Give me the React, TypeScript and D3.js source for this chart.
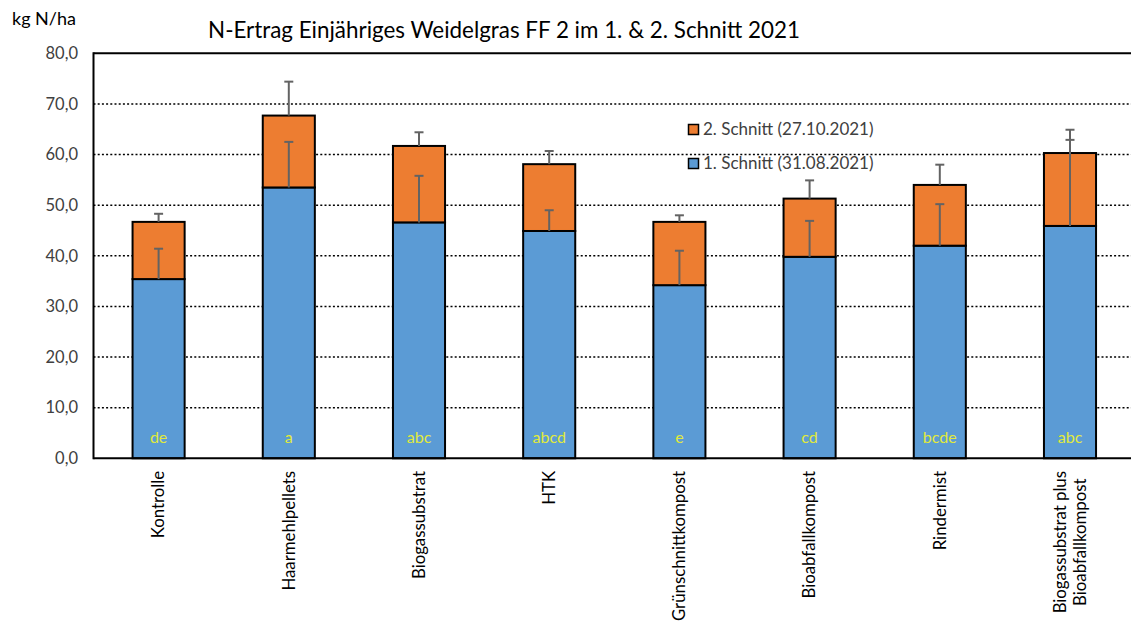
import React, { useEffect, useRef } from "react";
import * as d3 from "d3";

const categories = [
  "Kontrolle",
  "Haarmehlpellets",
  "Biogassubstrat",
  "HTK",
  "Grünschnittkompost",
  "Bioabfallkompost",
  "Rindermist",
  "Biogassubstrat plus|Bioabfallkompost",
];
const schnitt1 = [35.4, 53.5, 46.6, 44.9, 34.2, 39.8, 42.0, 45.9];
const schnitt2 = [11.3, 14.2, 15.1, 13.2, 12.5, 11.5, 12.0, 14.4];
const err1 = [6.0, 9.0, 9.2, 4.1, 6.8, 7.1, 8.2, 17.0];
const err2 = [1.6, 6.7, 2.7, 2.6, 1.3, 3.6, 4.0, 4.6];
const letters = ["de", "a", "abc", "abcd", "e", "cd", "bcde", "abc"];
const yTicks = [0, 10, 20, 30, 40, 50, 60, 70, 80];
const seriesNames = ["1. Schnitt (31.08.2021)", "2. Schnitt (27.10.2021)"];
const title = "N-Ertrag Einjähriges Weidelgras FF 2 im 1. & 2. Schnitt 2021";
const yLabel = "kg N/ha";

const W = 1131;
const H = 622;
const FONT = "Lato, 'Open Sans', sans-serif";
const BLUE = "#5b9bd5";
const ORANGE = "#ed7d31";

export default function App() {
  const ref = useRef<SVGSVGElement>(null);

  useEffect(() => {
    const svg = d3.select(ref.current!);
    svg.selectAll("*").remove();

    const left = 93.5;
    const top = 53.3;
    const bottom = 458.3;
    const step = 130.2;
    const right = left + step * categories.length;

    const x = d3
      .scaleBand<string>()
      .domain(categories)
      .range([left, right])
      .paddingInner(0.6)
      .paddingOuter(0.3);
    const y = d3.scaleLinear().domain([0, 80]).range([bottom, top]);

    svg.append("rect").attr("width", W).attr("height", H).attr("fill", "#fff");

    // gridlines
    svg
      .append("g")
      .selectAll("line")
      .data(yTicks.filter((t) => t > 0 && t < 80))
      .join("line")
      .attr("x1", left)
      .attr("x2", right)
      .attr("y1", (d) => y(d))
      .attr("y2", (d) => y(d))
      .attr("stroke", "#000")
      .attr("stroke-width", 1.6)
      .attr("stroke-dasharray", "2 2.2");

    // frame: top and left
    svg
      .append("line")
      .attr("x1", left)
      .attr("x2", right)
      .attr("y1", y(80))
      .attr("y2", y(80))
      .attr("stroke", "#000")
      .attr("stroke-width", 2);
    svg
      .append("line")
      .attr("x1", left)
      .attr("x2", left)
      .attr("y1", y(80) - 1)
      .attr("y2", y(0) + 1)
      .attr("stroke", "#000")
      .attr("stroke-width", 2);

    // y tick labels
    svg
      .append("g")
      .selectAll("text")
      .data(yTicks)
      .join("text")
      .attr("x", 78)
      .attr("y", (d) => y(d))
      .attr("dy", "0.35em")
      .attr("text-anchor", "end")
      .attr("font-family", FONT)
      .attr("font-size", 16.5)
      .attr("fill", "#404040")
      .text((d) => d3.format(".1f")(d).replace(".", ","));

    const bw = x.bandwidth();

    // bars
    const g = svg.append("g");
    categories.forEach((c, i) => {
      const x0 = x(c)!;
      g.append("rect")
        .attr("x", x0)
        .attr("y", y(schnitt1[i]))
        .attr("width", bw)
        .attr("height", y(0) - y(schnitt1[i]))
        .attr("fill", BLUE)
        .attr("stroke", "#000")
        .attr("stroke-width", 2);
      g.append("rect")
        .attr("x", x0)
        .attr("y", y(schnitt1[i] + schnitt2[i]))
        .attr("width", bw)
        .attr("height", y(schnitt1[i]) - y(schnitt1[i] + schnitt2[i]))
        .attr("fill", ORANGE)
        .attr("stroke", "#000")
        .attr("stroke-width", 2);
    });

    // x axis line
    svg
      .append("line")
      .attr("x1", left)
      .attr("x2", right)
      .attr("y1", y(0))
      .attr("y2", y(0))
      .attr("stroke", "#000")
      .attr("stroke-width", 2);

    // error bars
    const eg = svg.append("g").attr("stroke", "#636363").attr("stroke-width", 2);
    categories.forEach((c, i) => {
      const cx = x(c)! + bw / 2;
      const drawErr = (base: number, e: number) => {
        eg.append("line")
          .attr("x1", cx)
          .attr("x2", cx)
          .attr("y1", y(base))
          .attr("y2", y(base + e));
        eg.append("line")
          .attr("x1", cx - 4.5)
          .attr("x2", cx + 4.5)
          .attr("y1", y(base + e))
          .attr("y2", y(base + e));
      };
      drawErr(schnitt1[i], err1[i]);
      drawErr(schnitt1[i] + schnitt2[i], err2[i]);
    });

    // significance letters
    svg
      .append("g")
      .selectAll("text")
      .data(categories)
      .join("text")
      .attr("x", (d) => x(d)! + bw / 2)
      .attr("y", 443)
      .attr("text-anchor", "middle")
      .attr("font-family", FONT)
      .attr("font-size", 16)
      .attr("fill", "#e1ea3a")
      .text((_, i) => letters[i]);

    // x labels
    const xl = svg.append("g");
    categories.forEach((c) => {
      const cx = x(c)! + bw / 2;
      const lines = c.split("|");
      const t = xl
        .append("text")
        .attr("transform", `translate(${cx},471) rotate(-90)`)
        .attr("font-family", FONT)
        .attr("font-size", 16.8)
        .attr("fill", "#000");
      if (lines.length === 1) {
        t.attr("text-anchor", "end")
          .attr("x", 0)
          .attr("y", 0)
          .attr("dy", "0.35em")
          .text(lines[0]);
      } else {
        const spans = lines.map((l, k) =>
          t
            .append("tspan")
            .attr("x", 0)
            .attr("y", (k - (lines.length - 1) / 2) * 20)
            .attr("dy", "0.35em")
            .text(l)
        );
        const maxLen = d3.max(spans, (s) => (s.node() as SVGTSpanElement).getComputedTextLength()) || 0;
        t.attr("text-anchor", "middle");
        spans.forEach((s) => s.attr("x", -maxLen / 2));
      }
    });

    // legend
    const leg = svg.append("g");
    const legItems = [
      { name: seriesNames[1], color: ORANGE, y: 129.5 },
      { name: seriesNames[0], color: BLUE, y: 163.5 },
    ];
    legItems.forEach((it) => {
      leg
        .append("rect")
        .attr("x", 688.5)
        .attr("y", it.y - 5)
        .attr("width", 10)
        .attr("height", 10)
        .attr("fill", it.color)
        .attr("stroke", "#000")
        .attr("stroke-width", 1.5);
      leg
        .append("text")
        .attr("x", 703)
        .attr("y", it.y)
        .attr("dy", "0.35em")
        .attr("font-family", FONT)
        .attr("font-size", 17)
        .attr("fill", "#404040")
        .text(it.name);
    });

    // title
    svg
      .append("text")
      .attr("x", 504)
      .attr("y", 38)
      .attr("text-anchor", "middle")
      .attr("font-family", FONT)
      .attr("font-size", 22.4)
      .attr("fill", "#000")
      .text(title);

    // y label
    svg
      .append("text")
      .attr("x", 12)
      .attr("y", 25)
      .attr("font-family", FONT)
      .attr("font-size", 18)
      .attr("fill", "#000")
      .text(yLabel);
  }, []);

  return (
    <svg
      ref={ref}
      width={W}
      height={H}
      style={{ position: "absolute", left: 0, top: 0, display: "block" }}
    />
  );
}
